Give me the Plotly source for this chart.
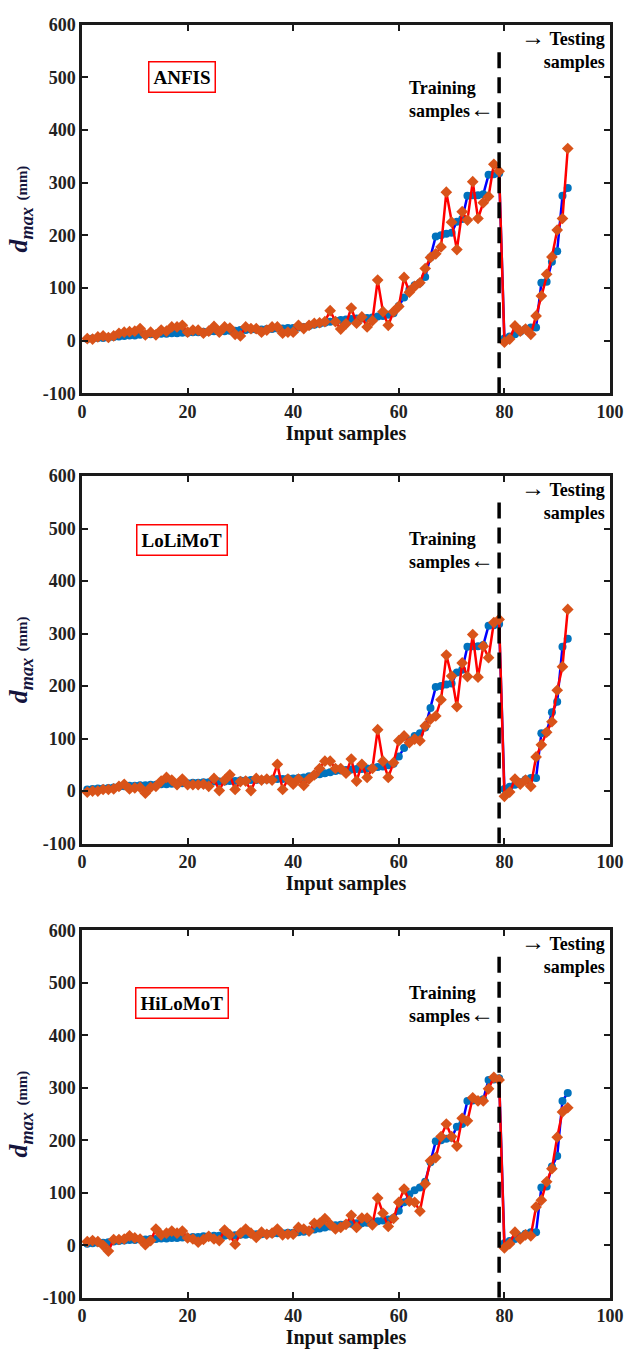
import plotly.graph_objects as go

# Sample index (training 1-79, testing 80-92)
sample_idx = list(range(1, 93))

# Measured maximum displacement d_max (mm)
measured = [
    3, 4, 5, 5, 6, 7, 8, 9, 10, 10,
    11, 11, 12, 12, 13, 13, 14, 14, 15, 15,
    16, 16, 17, 17, 18, 18, 18, 19, 19, 20,
    20, 21, 21, 21, 22, 22, 23, 23, 24, 24,
    25, 26, 28, 30, 32, 34, 36, 38, 39, 40,
    41, 42, 42, 43, 44, 46, 47, 49, 52, 66,
    82, 97, 105, 110, 121, 158, 198, 200, 203, 205,
    226, 231, 275, 276, 276, 278, 315, 316, 318, 4,
    8, 12, 17, 22, 25, 25, 110, 112, 150, 170,
    275, 290,
]

# Model predictions (mm)
pred_anfis = [
    4, 3, 7, 9, 6, 9, 14, 16, 17, 18,
    23, 11, 16, 11, 20, 18, 26, 26, 29, 16,
    20, 20, 14, 18, 27, 16, 26, 24, 12, 9,
    26, 23, 23, 16, 20, 26, 26, 14, 16, 16,
    29, 23, 29, 33, 34, 36, 57, 36, 22, 32,
    62, 33, 45, 26, 38, 115, 55, 29, 55, 65,
    120, 92, 103, 110, 137, 158, 165, 178, 282, 225,
    173, 245, 229, 302, 232, 262, 274, 335, 322, -3,
    3, 28, 18, 22, 12, 47, 85, 126, 159, 210,
    232, 365,
]

pred_lolimot = [
    -2, 0, 0, 3, 3, 4, 9, 13, 4, 6,
    7, -4, 7, 9, 19, 26, 21, 12, 23, 12,
    12, 12, 13, 9, 24, 1, 21, 31, 3, 18,
    19, 1, 24, 21, 23, 21, 51, 3, 23, 13,
    23, 11, 23, 31, 43, 57, 57, 43, 43, 34,
    61, 19, 51, 26, 43, 117, 57, 26, 54, 96,
    105, 92, 99, 96, 124, 137, 143, 174, 259, 219,
    161, 244, 218, 298, 217, 276, 254, 321, 327, -10,
    -2, 23, 13, 21, 9, 65, 88, 112, 132, 192,
    237, 346,
]

pred_hilomot = [
    7, 9, 7, 0, -11, 11, 11, 12, 18, 14,
    12, 1, 9, 31, 20, 23, 27, 23, 27, 14,
    12, 6, 11, 17, 12, 9, 29, 20, 2, 23,
    31, 23, 15, 25, 21, 23, 31, 20, 21, 21,
    34, 31, 27, 42, 42, 51, 40, 31, 34, 40,
    57, 34, 52, 52, 39, 90, 61, 36, 51, 82,
    107, 84, 82, 65, 117, 161, 167, 207, 231, 207,
    189, 242, 237, 281, 275, 275, 298, 320, 315, -5,
    3, 25, 12, 20, 18, 73, 86, 121, 146, 206,
    254, 262,
]

model_names = ["ANFIS", "LoLiMoT", "HiLoMoT"]
predictions = [pred_anfis, pred_lolimot, pred_hilomot]
label_y = [500, 478, 462]

split_x = 79
x_ticks = [0, 20, 40, 60, 80, 100]
y_ticks = [-100, 0, 100, 200, 300, 400, 500, 600]
y_tick_text = ["-100", "0", "100", "200", "300", "400", "500", "600"]

FIG_H = 1361
# Panel pixel extents (top, bottom) within the page
panel_px = [(15, 389), (473, 846), (934, 1307)]

SERIF = "Liberation Serif, Times New Roman, serif"
ARROW = "<span style='font-size:24px;font-weight:normal'>{}</span>"

fig = go.Figure()

for i, (name, pred) in enumerate(zip(model_names, predictions)):
    sfx = "" if i == 0 else str(i + 1)
    xa, ya = "x" + sfx, "y" + sfx

    fig.add_trace(go.Scatter(
        x=sample_idx, y=measured, mode="lines+markers",
        line=dict(color="#0000FF", width=2.5),
        marker=dict(symbol="circle", size=8, color="#0072BD"),
        xaxis=xa, yaxis=ya, showlegend=False,
    ))
    fig.add_trace(go.Scatter(
        x=sample_idx, y=pred, mode="lines+markers",
        line=dict(color="#FF0000", width=2.5),
        marker=dict(symbol="diamond", size=9, color="#D95319"),
        xaxis=xa, yaxis=ya, showlegend=False,
    ))

    top, bot = panel_px[i]
    dom = [1 - bot / FIG_H, 1 - top / FIG_H]
    axis_common = dict(
        showline=True, linecolor="#1a1a1a", linewidth=2.5, mirror="ticks",
        ticks="inside", ticklen=6, tickwidth=2, tickcolor="#1a1a1a",
        showgrid=False, zeroline=False, ticklabeloverflow="allow",
        tickfont=dict(family=SERIF, size=18, color="#222222", weight="bold"),
    )
    fig.update_layout({
        "xaxis" + sfx: dict(
            domain=[0, 1], anchor=ya, range=[0, 100], tickvals=x_ticks,
            title=dict(text="<b>Input samples</b>", standoff=2,
                       font=dict(family=SERIF, size=20, color="#111111")),
            **axis_common,
        ),
        "yaxis" + sfx: dict(
            domain=dom, anchor=xa, range=[-100, 600],
            tickvals=y_ticks, ticktext=y_tick_text,
            title=dict(
                text="<b><i>d<sub>max</sub></i> <span style='font-size:15px'>(mm)</span></b>",
                standoff=8,
                font=dict(family=SERIF, size=26, color="#14143c"),
            ),
            **axis_common,
        ),
    })

    # Boundary between training and testing samples
    fig.add_shape(
        type="line", xref=xa, yref=ya, x0=split_x, x1=split_x, y0=-100, y1=555,
        line=dict(color="black", width=3.5, dash="16px,9px"),
    )

    fig.add_annotation(
        xref=xa, yref=ya, x=19, y=label_y[i], text="<b>" + name + "</b>",
        showarrow=False, bordercolor="#FF0000", borderwidth=1.5, borderpad=4,
        bgcolor="white", font=dict(family=SERIF, size=19, color="black"),
    )
    fig.add_annotation(
        xref=xa, yref=ya, x=78.4, y=457, xanchor="right", yanchor="middle",
        text="<b>Training</b><br><b>samples</b>" + ARROW.format("←"),
        align="left", showarrow=False,
        font=dict(family=SERIF, size=18, color="black"),
    )
    fig.add_annotation(
        xref=xa, yref=ya, x=99.4, y=556, xanchor="right", yanchor="middle",
        text=ARROW.format("→") + " <b>Testing</b><br><b>samples</b>",
        align="right", showarrow=False,
        font=dict(family=SERIF, size=18, color="black"),
    )

fig.update_layout(
    width=624, height=FIG_H,
    margin=dict(l=82, r=13, t=0, b=0),
    paper_bgcolor="white", plot_bgcolor="white",
)

fig.write_html("out.html")
